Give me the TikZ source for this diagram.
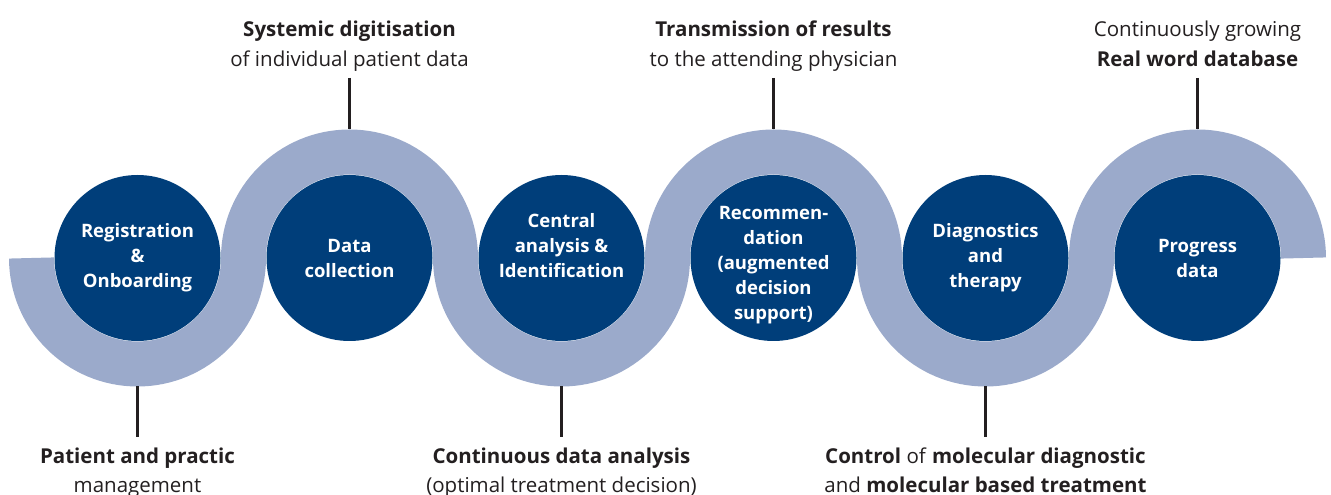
\documentclass[tikz,border=0pt]{standalone}
\usepackage{fontspec}
\setmainfont{Open Sans}
\definecolor{discblue}{RGB}{0,62,122}
\definecolor{bandblue}{RGB}{155,170,203}
\definecolor{ink}{RGB}{35,31,32}
\begin{document}
\begin{tikzpicture}[x=1pt, y=1pt,
        disc/.style={circle, fill=discblue, minimum size=166pt, inner sep=0pt},
        disctext/.style={text=white, font=\bfseries\fontsize{18.5}{25}\selectfont, align=center},
        note/.style={text=ink, font=\fontsize{20.5}{29.5}\selectfont, align=center, anchor=base, inner sep=0pt},
        tick/.style={draw=ink, line width=2.3pt}]
    \useasboundingbox (0,0) rectangle (1331,495);
    \draw[bandblue, line width=45pt] (31.5,237)
        arc[start angle=180, end angle=360, radius=106]
        arc[start angle=180, end angle=0, radius=106]
        arc[start angle=180, end angle=360, radius=106]
        arc[start angle=180, end angle=0, radius=106]
        arc[start angle=180, end angle=360, radius=106]
        arc[start angle=180, end angle=0, radius=106];
    \node[disc] (c1) at (137.5,237) {};
    \node[disc] (c2) at (349.5,237) {};
    \node[disc] (c3) at (561.5,237) {};
    \node[disc] (c4) at (773.5,237) {};
    \node[disc] (c5) at (985.5,237) {};
    \node[disc] (c6) at (1197.5,237) {};
    \node[disctext] (t1) at (c1) {Registration\\\&\\Onboarding};
    \node[disctext] (t2) at (c2) {Data\\collection};
    \node[disctext] (t3) at ([yshift=12]c3) {Central\\analysis \&\\Identification};
    \node[disctext] (t4) at ([yshift=-7]c4) {Recommen-\\dation\\(augmented\\decision\\support)};
    \node[disctext] (t5) at (c5) {Diagnostics\\and\\therapy};
    \node[disctext] (t6) at (c6) {Progress\\data};
    \coordinate (b1) at ([yshift=-128.5]c1.center);
    \coordinate (b2) at ([yshift=128.5]c2.center);
    \coordinate (b3) at ([yshift=-128.5]c3.center);
    \coordinate (b4) at ([yshift=128.5]c4.center);
    \coordinate (b5) at ([yshift=-128.5]c5.center);
    \coordinate (b6) at ([yshift=128.5]c6.center);
    \node[note] (l2) at (349.5,428.5) {\textbf{Systemic digitisation}\\of individual patient data};
    \node[note] (l4) at (773.5,428.5) {\textbf{Transmission of results}\\to the attending physician};
    \node[note] (l6) at (1197.5,428.5) {Continuously growing\\\textbf{Real word database}};
    \node[note] (l1) at (137.5,2) {\textbf{Patient and practic}\\management};
    \node[note] (l3) at (561.5,2) {\textbf{Continuous data analysis}\\(optimal treatment decision)};
    \node[note] (l5) at (985.5,2) {\textbf{Control} of \textbf{molecular diagnostic}\\and \textbf{molecular based treatment}};
    \draw[tick] ([yshift=-11.5]l2.base) -- (b2);
    \draw[tick] ([yshift=-11.5]l4.base) -- (b4);
    \draw[tick] ([yshift=-11.5]l6.base) -- (b6);
    \draw[tick] ([yshift=11]l1.north) -- (b1);
    \draw[tick] ([yshift=11]l3.north) -- (b3);
    \draw[tick] ([yshift=11]l5.north) -- (b5);
\end{tikzpicture}
\end{document}
